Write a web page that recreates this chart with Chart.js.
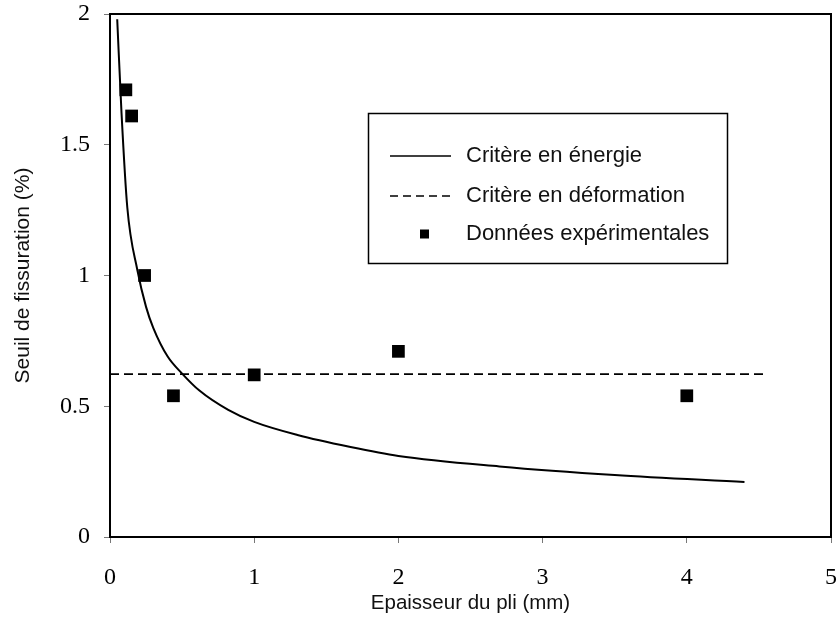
<!DOCTYPE html>
<html>
<head>
<meta charset="utf-8">
<script src="https://cdn.jsdelivr.net/npm/chart.js@4/dist/chart.umd.min.js"></script>
<style>
    html, body { margin: 0; padding: 0; background: #fff; }
    #zona { width: 840px; height: 632px; }
</style>
</head>
<body>
<div id="zona"><canvas id="grafica"></canvas></div>
<script>
// Critère en énergie (courbe)
const epaisseurEnergie = [0.05, 0.08, 0.12, 0.19, 0.25, 0.30, 0.40, 0.50, 0.62, 0.82, 1.0, 1.3, 1.66, 2.0, 2.7, 3.5, 4.4];
const seuilEnergie = [1.98, 1.62, 1.26, 1.02, 0.88, 0.80, 0.69, 0.625, 0.56, 0.486, 0.44, 0.39, 0.345, 0.31, 0.27, 0.237, 0.21];

// Critère en déformation
const epaisseurDeformation = [0, 4.53];
const seuilDeformation = [0.623, 0.623];

// Données expérimentales
const epaisseurExp = [0.11, 0.15, 0.24, 0.44, 1, 2, 4];
const seuilExp = [1.71, 1.61, 1.0, 0.54, 0.62, 0.71, 0.54];

const etiquettes = ["Critère en énergie", "Critère en déformation", "Données expérimentales"];
const ticksX = ["0", "1", "2", "3", "4", "5"];
const ticksY = ["0", "0.5", "1", "1.5", "2"];

const sans = "'Liberation Sans', Arial, sans-serif";
const serif = "'Liberation Serif', 'Times New Roman', serif";

function puntos(xs, ys) {
    return xs.map((x, i) => ({ x: x, y: ys[i] }));
}

const marco = {
    id: "marco",
    afterDatasetsDraw(chart) {
        const { ctx, chartArea: a } = chart;
        ctx.save();
        ctx.strokeStyle = "#000";
        ctx.lineWidth = 2;
        ctx.beginPath();
        ctx.moveTo(a.left, a.top);
        ctx.lineTo(a.right, a.top);
        ctx.lineTo(a.right, a.bottom);
        ctx.stroke();
        ctx.restore();
    }
};

const leyenda = {
    id: "leyenda",
    afterDraw(chart) {
        const ctx = chart.ctx;
        const filas = [156, 196, 234];
        ctx.save();
        ctx.fillStyle = "#fff";
        ctx.fillRect(368, 113, 360, 151);
        ctx.strokeStyle = "#000";
        ctx.lineWidth = 1.5;
        ctx.strokeRect(368.5, 113.5, 359, 150);
        chart.data.datasets.forEach((ds, i) => {
            const y = filas[i];
            if (ds.showLine === false) {
                ctx.fillStyle = ds.backgroundColor;
                ctx.fillRect(420, y - 4.5, 9, 9);
            } else {
                ctx.strokeStyle = ds.borderColor;
                ctx.lineWidth = 1.5;
                ctx.setLineDash(ds.borderDash ? [8, 5] : []);
                ctx.beginPath();
                ctx.moveTo(390, y);
                ctx.lineTo(451, y);
                ctx.stroke();
                ctx.setLineDash([]);
            }
            ctx.fillStyle = "#111";
            ctx.font = "22px " + sans;
            ctx.textBaseline = "middle";
            ctx.fillText(ds.label, 466, y);
        });
        ctx.restore();
    }
};

new Chart(document.querySelector("#grafica"), {
    type: "scatter",
    data: {
        datasets: [
            {
                label: etiquettes[0],
                data: puntos(epaisseurEnergie, seuilEnergie),
                showLine: true,
                borderColor: "#000",
                borderWidth: 2,
                pointRadius: 0,
                cubicInterpolationMode: "monotone"
            },
            {
                label: etiquettes[1],
                data: puntos(epaisseurDeformation, seuilDeformation),
                showLine: true,
                borderColor: "#000",
                borderWidth: 1.8,
                borderDash: [9, 5],
                pointRadius: 0
            },
            {
                label: etiquettes[2],
                data: puntos(epaisseurExp, seuilExp),
                showLine: false,
                backgroundColor: "#000",
                borderColor: "#000",
                pointStyle: "rect",
                pointRadius: 9,
                borderWidth: 0
            }
        ]
    },
    options: {
        responsive: true,
        maintainAspectRatio: false,
        animation: false,
        layout: { padding: { top: 14, right: 7, left: 0, bottom: 0 } },
        plugins: {
            legend: { display: false },
            tooltip: { enabled: false }
        },
        scales: {
            x: {
                type: "linear",
                min: 0,
                max: 5,
                afterFit: (s) => { s.height = 95; s.paddingLeft = 0; s.paddingRight = 0; },
                ticks: {
                    stepSize: 1,
                    padding: 20,
                    color: "#000",
                    font: { family: serif, size: 24 },
                    callback: (v, i) => ticksX[i]
                },
                grid: { drawOnChartArea: false, drawTicks: true, tickLength: 6, color: "#777" },
                border: { display: true, color: "#000", width: 2 },
                title: {
                    display: true,
                    text: "Epaisseur du pli (mm)",
                    color: "#111",
                    font: { family: sans, size: 20.5 },
                    padding: { top: 0, bottom: 16 }
                }
            },
            y: {
                type: "linear",
                min: 0,
                max: 2,
                afterFit: (s) => { s.width = 110; s.paddingTop = 0; s.paddingBottom = 0; },
                ticks: {
                    stepSize: 0.5,
                    padding: 14,
                    color: "#000",
                    font: { family: serif, size: 24 },
                    callback: (v, i) => ticksY[i]
                },
                grid: { drawOnChartArea: false, drawTicks: true, tickLength: 6, color: "#777" },
                border: { display: true, color: "#000", width: 2 },
                title: {
                    display: true,
                    text: "Seuil de fissuration (%)",
                    color: "#111",
                    font: { family: sans, size: 21 },
                    padding: { top: 11, bottom: 0 }
                }
            }
        }
    },
    plugins: [marco, leyenda]
});
</script>
</body>
</html>
